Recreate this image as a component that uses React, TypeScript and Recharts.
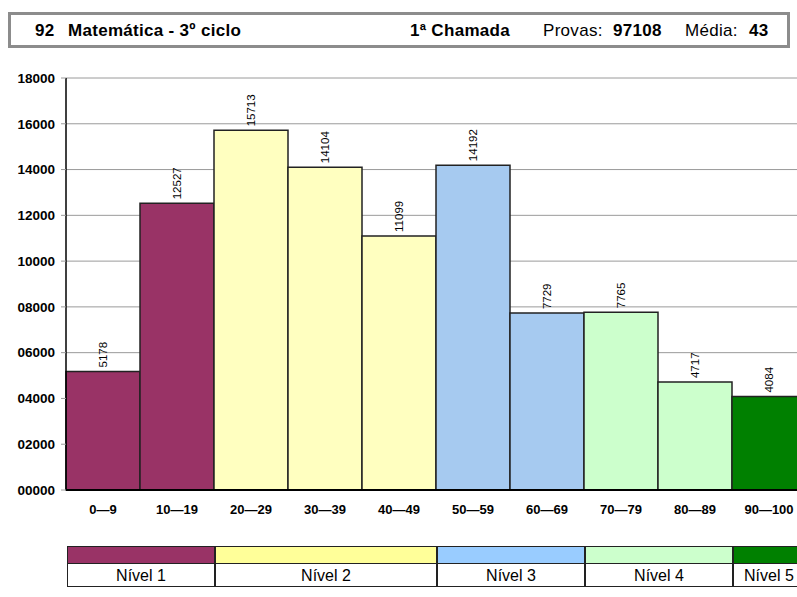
import React from "react";
import { BarChart, Bar, XAxis, YAxis, CartesianGrid, Cell, LabelList } from "recharts";

const categories = ["0—9", "10—19", "20—29", "30—39", "40—49", "50—59", "60—69", "70—79", "80—89", "90—100"];
const counts = [5178, 12527, 15713, 14104, 11099, 14192, 7729, 7765, 4717, 4084];
const levelOf = [1, 1, 2, 2, 2, 3, 3, 4, 4, 5];
const levelNames = ["Nível 1", "Nível 2", "Nível 3", "Nível 4", "Nível 5"];
const yTicks = [0, 2000, 4000, 6000, 8000, 10000, 12000, 14000, 16000, 18000];

const barColors = ["#993366", "#FFFFC0", "#A6CAF0", "#CCFFCC", "#008000"];
const legendColors = ["#993366", "#FFFF99", "#99CCFF", "#CCFFCC", "#008000"];

const data = categories.map((name, i) => ({ name, value: counts[i], level: levelOf[i] }));

const FONT = "'Liberation Sans', Arial, sans-serif";
const PLOT_LEFT = 66;
const BAR_W = 74;

const ValueLabel = (props: any) => {
  const { x, y, width, value } = props;
  const cx = x + width / 2;
  const ty = y - 4;
  return (
    <text
      x={cx}
      y={ty}
      transform={`rotate(-90 ${cx} ${ty})`}
      textAnchor="start"
      dominantBaseline="central"
      fontSize={11.5}
      fontFamily={FONT}
      fill="#000"
    >
      {value}
    </text>
  );
};

function Header() {
  const bold: React.CSSProperties = { fontWeight: "bold" };
  const t = (left: number, text: string, b = true) => (
    <span style={{ position: "absolute", left, top: 6, ...(b ? bold : {}) }}>{text}</span>
  );
  return (
    <div
      style={{
        position: "absolute",
        left: 8,
        top: 12,
        width: 776,
        height: 30,
        border: "3px solid #8c8c8c",
        fontFamily: FONT,
        fontSize: 17,
        letterSpacing: 0.3,
        color: "#000",
      }}
    >
      {t(24, "92")}
      {t(57, "Matemática - 3º ciclo")}
      {t(399, "1ª Chamada")}
      {t(532, "Provas:", false)}
      {t(602, "97108")}
      {t(674, "Média:", false)}
      {t(738, "43")}
    </div>
  );
}

function LevelLegend() {
  let left = PLOT_LEFT + 1;
  return (
    <>
      {levelNames.map((name, i) => {
        const n = levelOf.filter((l) => l === i + 1).length;
        const w = n * BAR_W;
        const last = i === levelNames.length - 1;
        const el = (
          <div key={name} style={{ position: "absolute", left, top: 546, width: w, fontFamily: FONT }}>
            <div
              style={{
                height: 16,
                background: legendColors[i],
                border: "1px solid #222",
                borderRight: last ? "none" : "1px solid #222",
              }}
            />
            <div
              style={{
                height: 22,
                borderLeft: "1px solid #222",
                borderRight: last ? "none" : "1px solid #222",
                borderBottom: "1px solid #222",
                textAlign: last ? "left" : "center",
                paddingLeft: last ? 10 : 0,
                fontSize: 16,
                lineHeight: "23px",
                background: "#fff",
              }}
            >
              {name}
            </div>
          </div>
        );
        left += w;
        return el;
      })}
    </>
  );
}

export default function App() {
  return (
    <div style={{ position: "absolute", left: 0, top: 0, width: 797, height: 597, overflow: "hidden", background: "#fff" }}>
      <Header />
      <div style={{ position: "absolute", left: 0, top: 0 }}>
        <BarChart
          width={820}
          height={597}
          data={data}
          margin={{ top: 78, right: 14, bottom: 77, left: 0 }}
          barCategoryGap={0}
        >
          <CartesianGrid vertical={false} stroke="#9a9a9a" strokeWidth={1} />
          <XAxis
            dataKey="name"
            height={30}
            axisLine={{ stroke: "#000", strokeWidth: 2 }}
            tickLine={false}
            tickSize={0}
            tickMargin={15}
            tick={{ fontSize: 13, fontWeight: "bold", fill: "#000", fontFamily: FONT }}
            interval={0}
          />
          <YAxis
            width={PLOT_LEFT}
            domain={[0, 18000]}
            ticks={yTicks}
            interval={0}
            axisLine={{ stroke: "#000", strokeWidth: 1.5 }}
            tickLine={{ stroke: "#9a9a9a" }}
            tickSize={5}
            tickMargin={6}
            tickFormatter={(v: number) => String(v).padStart(5, "0")}
            tick={{ fontSize: 13.5, fontWeight: "bold", fill: "#000", fontFamily: FONT }}
          />
          <Bar dataKey="value" stroke="#222" strokeWidth={1.5} isAnimationActive={false}>
            {data.map((d) => (
              <Cell key={d.name} fill={barColors[d.level - 1]} />
            ))}
            <LabelList dataKey="value" content={<ValueLabel />} />
          </Bar>
        </BarChart>
      </div>
      <LevelLegend />
    </div>
  );
}
